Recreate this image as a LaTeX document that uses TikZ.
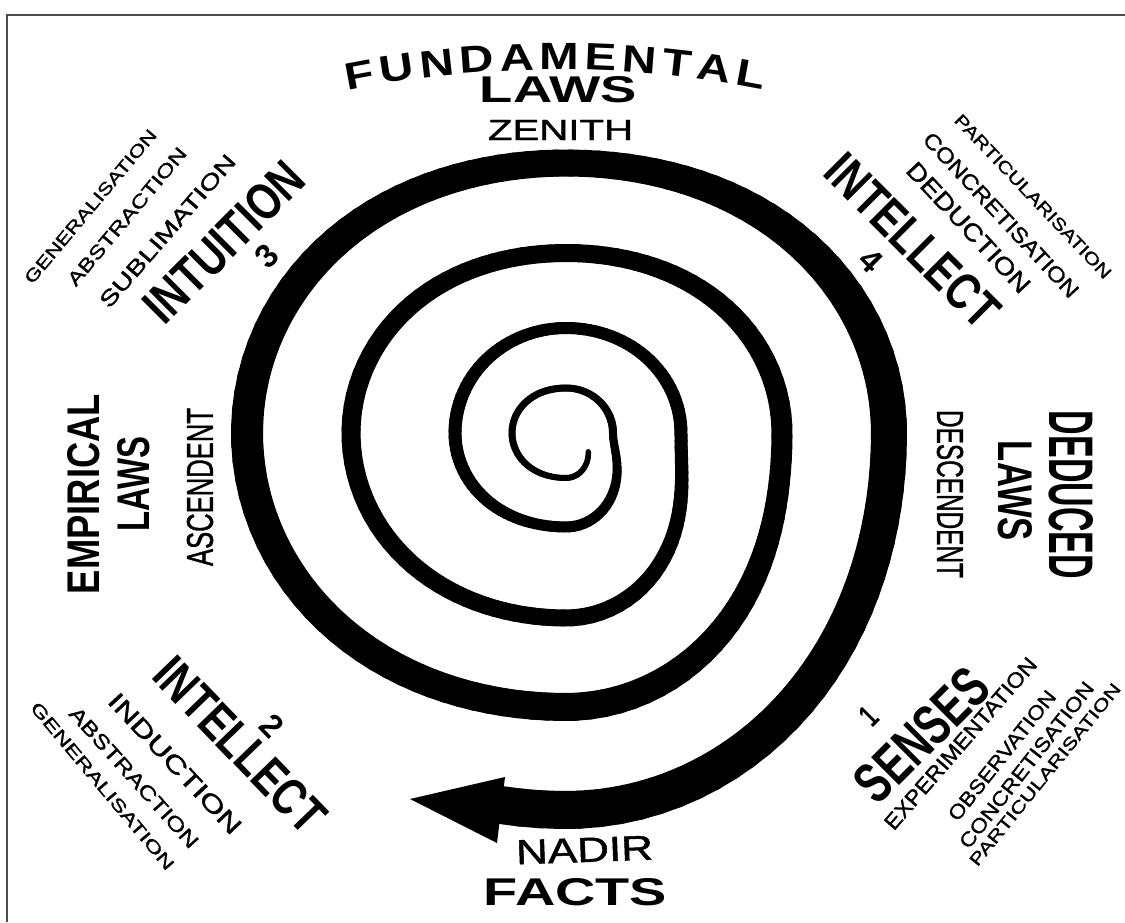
\documentclass[tikz,border=0pt]{standalone}
\usepackage{fontspec}
\usepackage{tikz}
\newfontfamily\labelfont{Liberation Sans}
\newfontfamily\medfont[FakeBold=1.2]{Liberation Sans}
\newfontfamily\widefont[FakeStretch=1.25]{Liberation Sans}

% spiral: radius and line width at every quarter turn (clockwise, from the centre)
\def\spiralR{{18,45,54,45,47,94,111,105,115,185,215,180,216,274,319,270,323,377,400}}
\def\spiralW{{5,6,7,7,8,11,13,12,13,17,19,18,21,28,32,27,36,38,38}}
\newcommand{\spiralpt}[1]{%
  \pgfmathsetmacro{\spk}{#1/90}%
  \pgfmathtruncatemacro{\spn}{floor(\spk)}%
  \pgfmathsetmacro{\spf}{(1-cos(180*(\spk-\spn)))/2}%
  \pgfmathsetmacro{\spR}{\spiralR[\spn]*(1-\spf)+\spiralR[\spn+1]*\spf}%
  \pgfmathsetmacro{\spW}{\spiralW[\spn]*(1-\spf)+\spiralW[\spn+1]*\spf}%
  \pgfmathsetmacro{\spx}{\spR*cos(-#1)}%
  \pgfmathsetmacro{\spy}{\spR*sin(-#1)}%
}
\newcommand{\fitlbl}[3]{\resizebox{#1pt}{#2pt}{#3}}

\begin{document}
\begin{tikzpicture}[
    x=1pt, y=1pt,
    spiral/.style={line cap=round},
    biglabel/.style={inner sep=0pt, font=\labelfont\bfseries},
    smalllabel/.style={inner sep=0pt, font=\medfont},
    fundletter/.style={inner sep=0pt, font=\widefont\bfseries\fontsize{38}{38}\selectfont},
]
\useasboundingbox (-566,-489) rectangle (559,433);

% frame of the scan
\draw[gray!60!black, line width=2pt] (-559,-489) -- (-559,418) -- (559,418);

% the spiral, growing out from the centre
\foreach \ang in {40,43,...,1537} {
  \spiralpt{\ang}
  \let\xa\spx \let\ya\spy \let\wa\spW
  \pgfmathsetmacro{\angb}{\ang+3}
  \spiralpt{\angb}
  \draw[spiral, line width=\wa*1pt] (\xa,\ya) -- (\spx,\spy);
}

% arrow head at the nadir
\coordinate (head-tip) at (-156,-366);
\coordinate (head-up) at (-61,-344);
\coordinate (head-down) at (-69,-410);
\fill (head-up) -- (head-tip) -- (head-down) -- cycle;

% Top: fundamental laws, letters set on an arc
\foreach \ch/\a [count=\i] in {F/100.59, U/98.59, N/96.44, D/94.30, A/92.15, M/89.87,
    E/87.65, N/85.58, T/83.57, A/81.57, L/79.57}
  \node[fundletter, rotate=\a-90] (fund-\i) at ([shift={(-9,-697)}] \a:1073.5) {\ch};
\node[biglabel] (top-laws) at (-7.5,343) {\fitlbl{157}{26}{LAWS}};
\node[smalllabel] (zenith) at (-5.5,303) {\fitlbl{145}{20}{ZENITH}};

% Upper left: intuition
\node[smalllabel, rotate=50] (tl-gen) at (-475.5,226.5) {\fitlbl{195}{12}{GENERALISATION}};
\node[smalllabel, rotate=50] (tl-abs) at (-439,216.5) {\fitlbl{174}{13}{ABSTRACTION}};
\node[smalllabel, rotate=49] (tl-sub) at (-398.5,202) {\fitlbl{195}{15}{SUBLIMATION}};
\node[biglabel, rotate=45] (intuition) at (-342,191) {\fitlbl{203}{36}{INTUITION}};
\node[biglabel, rotate=45] (num3) at (-299.5,176.5) {\fitlbl{18}{23}{3}};

% Upper right: intellect
\node[smalllabel, rotate=-46.5] (tr-part) at (467,236.5) {\fitlbl{219}{12}{PARTICULARISATION}};
\node[smalllabel, rotate=-47] (tr-conc) at (435,218) {\fitlbl{217}{15}{CONCRETISATION}};
\node[smalllabel, rotate=-47] (tr-ded) at (402.5,205.5) {\fitlbl{169}{17}{DEDUCTION}};
\node[biglabel, rotate=-45] (tr-intellect) at (347,192.5) {\fitlbl{222}{36}{INTELLECT}};
\node[biglabel, rotate=-45] (num4) at (304.5,172.5) {\fitlbl{18}{23}{4}};

% Left: empirical laws
\node[biglabel, rotate=90] (empirical) at (-482,-61) {\fitlbl{200}{32}{EMPIRICAL}};
\node[biglabel, rotate=90] (left-laws) at (-432,-51) {\fitlbl{95}{32}{LAWS}};
\node[smalllabel, rotate=90] (ascendent) at (-366,-54) {\fitlbl{158}{26}{ASCENDENT}};

% Right: deduced laws
\node[biglabel, rotate=-90] (deduced) at (505,-62) {\fitlbl{168}{44}{DEDUCED}};
\node[biglabel, rotate=-90] (right-laws) at (449,-58) {\fitlbl{100}{34}{LAWS}};
\node[smalllabel, rotate=-90] (descendent) at (384,-61) {\fitlbl{168}{26}{DESCENDENT}};

% Lower left: intellect
\node[biglabel, rotate=-46] (bl-intellect) at (-326,-312) {\fitlbl{222}{36}{INTELLECT}};
\node[biglabel, rotate=-46] (num2) at (-293.5,-292.5) {\fitlbl{18}{23}{2}};
\node[smalllabel, rotate=-47] (bl-ind) at (-391,-330.5) {\fitlbl{183}{17}{INDUCTION}};
\node[smalllabel, rotate=-48] (bl-abs) at (-432,-344.5) {\fitlbl{182}{14}{ABSTRACTION}};
\node[smalllabel, rotate=-50] (bl-gen) at (-463.5,-353) {\fitlbl{213}{12}{GENERALISATION}};

% Lower right: senses
\node[biglabel, rotate=45] (senses) at (356,-302) {\fitlbl{164}{40}{SENSES}};
\node[biglabel, rotate=45] (num1) at (302.5,-283.5) {\fitlbl{12}{22}{1}};
\node[smalllabel, rotate=49] (br-exp) at (394.5,-310.5) {\fitlbl{220}{15}{EXPERIMENTATION}};
\node[smalllabel, rotate=51.5] (br-obs) at (436,-322.5) {\fitlbl{160}{14}{OBSERVATION}};
\node[smalllabel, rotate=52] (br-conc) at (460.5,-332) {\fitlbl{205}{14}{CONCRETISATION}};
\node[smalllabel, rotate=51] (br-part) at (479,-341.5) {\fitlbl{229}{12}{PARTICULARISATION}};

% Bottom: facts
\node[smalllabel, rotate=2] (nadir) at (18.5,-417) {\fitlbl{137}{24}{NADIR}};
\node[biglabel] (facts) at (9.5,-459.5) {\fitlbl{183}{27}{FACTS}};

\end{tikzpicture}
\end{document}
